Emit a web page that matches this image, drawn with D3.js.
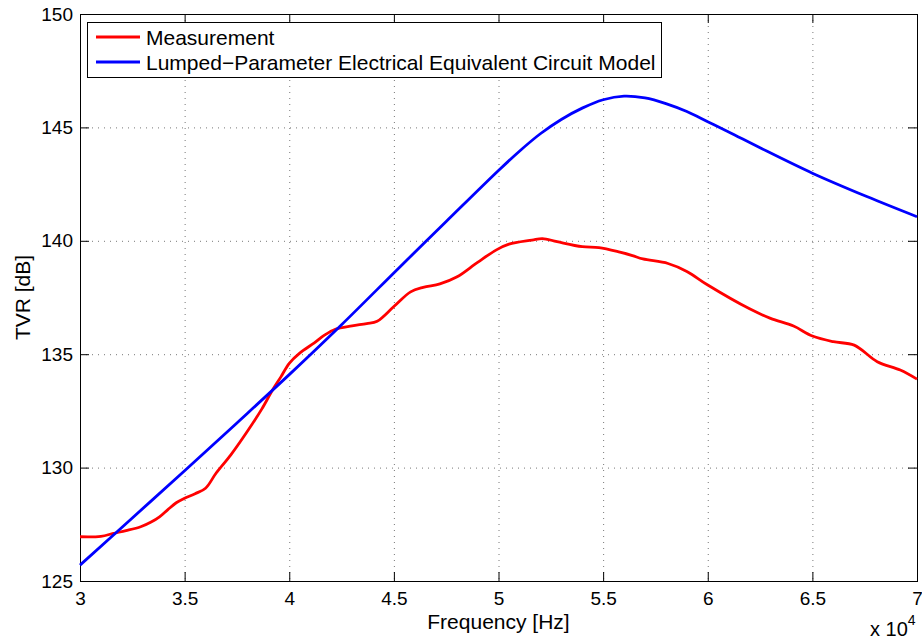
<!DOCTYPE html>
<html>
<head>
<meta charset="utf-8">
<script src="https://cdn.jsdelivr.net/npm/d3@7"></script>
<style>
  body { margin: 0; background: #fff; }
  svg { display: block; font-family: "Liberation Sans", Arial, Helvetica, sans-serif; }
</style>
</head>
<body>
<svg width="922" height="644"></svg>
<script>
// frequencies in units of 10^4 Hz
const measFreq = [3.00, 3.10, 3.16, 3.22, 3.29, 3.34, 3.38, 3.42, 3.46, 3.50, 3.55, 3.60, 3.65, 3.72, 3.80, 3.87, 3.92, 3.96, 4.00, 4.05, 4.12, 4.17, 4.22, 4.30, 4.37, 4.42, 4.50, 4.58, 4.64, 4.72, 4.80, 4.90, 4.99, 5.05, 5.16, 5.21, 5.28, 5.40, 5.48, 5.58, 5.64, 5.69, 5.81, 5.90, 6.00, 6.20, 6.30, 6.41, 6.50, 6.60, 6.70, 6.81, 6.92, 7.00];
const measTvr = [126.95, 126.97, 127.1, 127.22, 127.39, 127.6, 127.83, 128.15, 128.45, 128.65, 128.85, 129.09, 129.75, 130.55, 131.6, 132.6, 133.42, 134.0, 134.6, 135.05, 135.5, 135.85, 136.1, 136.25, 136.35, 136.45, 137.1, 137.75, 137.95, 138.1, 138.4, 139.05, 139.6, 139.85, 140.03, 140.1, 139.96, 139.74, 139.7, 139.5, 139.35, 139.2, 139.0, 138.65, 138.05, 137.0, 136.58, 136.24, 135.8, 135.55, 135.4, 134.67, 134.3, 133.9];

const modelFreq = [3.00, 3.25, 3.50, 3.75, 4.00, 4.25, 4.53, 4.75, 5.00, 5.10, 5.20, 5.30, 5.40, 5.50, 5.60, 5.70, 5.80, 5.90, 6.00, 6.10, 6.25, 6.50, 6.76, 7.00];
const modelTvr = [125.7, 127.78, 129.86, 131.97, 134.1, 136.3, 138.86, 140.85, 143.1, 143.95, 144.72, 145.35, 145.85, 146.22, 146.38, 146.3, 146.05, 145.7, 145.25, 144.8, 144.1, 142.98, 141.95, 141.06];

const xTicks = [3, 3.5, 4, 4.5, 5, 5.5, 6, 6.5, 7];
const yTicks = [125, 130, 135, 140, 145, 150];

const seriesNames = ["Measurement", "Lumped\u2212Parameter Electrical Equivalent Circuit Model"];
const seriesColors = ["#ff0000", "#0000ff"];

const svg = d3.select("svg");
const pLeft = 80, pRight = 917, pTop = 14, pBottom = 581;

const x = d3.scaleLinear().domain([3, 7]).range([pLeft, pRight]);
const y = d3.scaleLinear().domain([125, 150]).range([pBottom, pTop]);

// grid
const grid = svg.append("g")
  .attr("stroke", "#777")
  .attr("stroke-width", 1)
  .attr("stroke-dasharray", "1,5");

grid.selectAll("line.vx")
  .data(xTicks.slice(1, -1))
  .join("line")
  .attr("x1", d => x(d) + 0.5).attr("x2", d => x(d) + 0.5)
  .attr("y1", pTop).attr("y2", pBottom);

grid.selectAll("line.hy")
  .data(yTicks.slice(1, -1))
  .join("line")
  .attr("y1", d => y(d) + 0.5).attr("y2", d => y(d) + 0.5)
  .attr("x1", pLeft).attr("x2", pRight);

// axes
const fmt = d3.format("");
const axisStyle = g => {
  g.select(".domain").remove();
  g.selectAll(".tick line").attr("stroke", "#000");
  g.selectAll("text").attr("fill", "#000").attr("font-size", 19);
  g.attr("font-family", null).attr("font-size", null);
};

svg.append("g")
  .attr("transform", `translate(0,${pBottom})`)
  .call(d3.axisBottom(x).tickValues(xTicks).tickFormat(fmt).tickSize(-9).tickPadding(11))
  .call(axisStyle);

svg.append("g")
  .attr("transform", `translate(0,${pTop})`)
  .call(d3.axisTop(x).tickValues(xTicks).tickFormat("").tickSize(-9))
  .call(axisStyle);

svg.append("g")
  .attr("transform", `translate(${pLeft},0)`)
  .call(d3.axisLeft(y).tickValues(yTicks).tickFormat(fmt).tickSize(-9).tickPadding(7))
  .call(axisStyle);

svg.append("g")
  .attr("transform", `translate(${pRight},0)`)
  .call(d3.axisRight(y).tickValues(yTicks).tickFormat("").tickSize(-9))
  .call(axisStyle);

// box
svg.append("rect")
  .attr("x", pLeft + 0.5).attr("y", pTop + 0.5)
  .attr("width", pRight - pLeft).attr("height", pBottom - pTop)
  .attr("fill", "none").attr("stroke", "#000").attr("stroke-width", 1);

// lines
const line = d3.line()
  .x(d => x(d[0]))
  .y(d => y(d[1]))
  .curve(d3.curveCatmullRom.alpha(0.5));

const series = [
  d3.zip(measFreq, measTvr),
  d3.zip(modelFreq, modelTvr)
];

svg.append("g")
  .selectAll("path")
  .data(series)
  .join("path")
  .attr("d", line)
  .attr("fill", "none")
  .attr("stroke", (d, i) => seriesColors[i])
  .attr("stroke-width", 2.8)
  .attr("stroke-linejoin", "round");

// legend
const legend = svg.append("g");
legend.append("rect")
  .attr("x", 87.5).attr("y", 22.5)
  .attr("width", 574).attr("height", 55)
  .attr("fill", "#fff").attr("stroke", "#000").attr("stroke-width", 1);

const rows = legend.selectAll("g.row")
  .data(seriesNames)
  .join("g")
  .attr("transform", (d, i) => `translate(0,${37 + i * 25})`);

rows.append("line")
  .attr("x1", 96).attr("x2", 140)
  .attr("stroke", (d, i) => seriesColors[i])
  .attr("stroke-width", 2.8);

rows.append("text")
  .attr("x", 146).attr("y", 8)
  .attr("font-size", 21)
  .text(d => d);

// labels
svg.append("text")
  .attr("x", (pLeft + pRight) / 2).attr("y", 629)
  .attr("text-anchor", "middle")
  .attr("font-size", 21)
  .text("Frequency [Hz]");

svg.append("text")
  .attr("transform", `translate(30,${(pTop + pBottom) / 2}) rotate(-90)`)
  .attr("text-anchor", "middle")
  .attr("font-size", 21)
  .text("TVR [dB]");

const mult = svg.append("text")
  .attr("x", 870).attr("y", 636)
  .attr("font-size", 20);
mult.append("tspan").text("x 10");
mult.append("tspan").attr("font-size", 14).attr("dy", -11).text("4");
</script>
</body>
</html>
